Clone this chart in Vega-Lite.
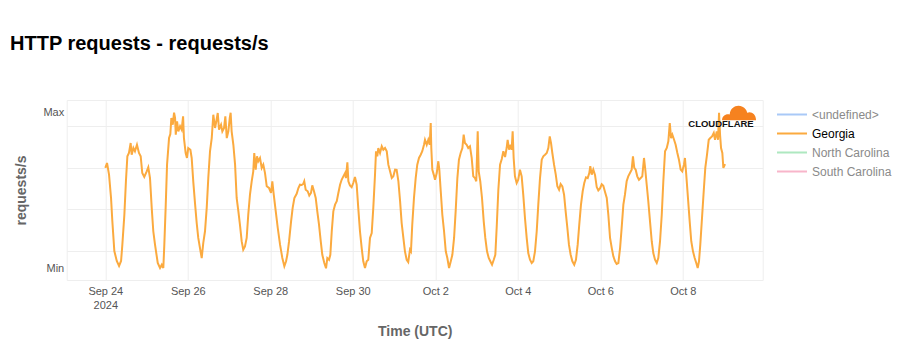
{
  "$schema": "https://vega.github.io/schema/vega-lite/v6.json",
  "autosize": {"type": "none"},
  "padding": {"left": 66.7, "top": 100, "right": 137.3, "bottom": 80},
  "width": 696,
  "height": 180,
  "background": "#ffffff",
  "title": {"text": "HTTP requests - requests/s", "anchor": "start", "frame": "group", "dx": -56.7, "offset": 46, "fontSize": 20, "fontWeight": "bold", "color": "#000000", "font": "Liberation Sans"},
  "config": {
    "font": "Liberation Sans",
    "view": {"stroke": "#eeeeee"},
    "axis": {"labelOverlap": false, "labelFlush": false}
  },
  "layer": [
    {
      "data": {"values": [
        {"t":"2024-09-24T00:00","v":0.645},{"t":"2024-09-24T01:00","v":0.677},{"t":"2024-09-24T02:10","v":0.602},{"t":"2024-09-24T03:20","v":0.452},{"t":"2024-09-24T04:05","v":0.304},{"t":"2024-09-24T05:15","v":0.111},{"t":"2024-09-24T06:40","v":0.047},{"t":"2024-09-24T08:00","v":0.015},{"t":"2024-09-24T09:10","v":0.047},{"t":"2024-09-24T09:55","v":0.152},{"t":"2024-09-24T11:05","v":0.344},{"t":"2024-09-24T12:00","v":0.561},{"t":"2024-09-24T12:50","v":0.72},{"t":"2024-09-24T13:45","v":0.741},{"t":"2024-09-24T14:45","v":0.805},{"t":"2024-09-24T15:20","v":0.73},{"t":"2024-09-24T16:20","v":0.773},{"t":"2024-09-24T17:15","v":0.752},{"t":"2024-09-24T18:25","v":0.794},{"t":"2024-09-24T19:35","v":0.741},{"t":"2024-09-24T20:35","v":0.72},{"t":"2024-09-24T21:30","v":0.612},{"t":"2024-09-24T22:40","v":0.587},
        {"t":"2024-09-25T00:05","v":0.623},{"t":"2024-09-25T01:00","v":0.649},{"t":"2024-09-25T02:00","v":0.58},{"t":"2024-09-25T03:00","v":0.388},{"t":"2024-09-25T03:55","v":0.238},{"t":"2024-09-25T04:55","v":0.152},{"t":"2024-09-25T06:30","v":0.034},{"t":"2024-09-25T07:50","v":0.002},{"t":"2024-09-25T08:50","v":0.023},{"t":"2024-09-25T09:45","v":0.002},{"t":"2024-09-25T10:20","v":0.152},{"t":"2024-09-25T11:10","v":0.409},{"t":"2024-09-25T11:55","v":0.666},{"t":"2024-09-25T13:05","v":0.837},{"t":"2024-09-25T13:50","v":0.863},{"t":"2024-09-25T14:25","v":0.966},{"t":"2024-09-25T15:15","v":0.923},{"t":"2024-09-25T16:00","v":1.0},{"t":"2024-09-25T16:35","v":0.966},{"t":"2024-09-25T17:00","v":0.859},{"t":"2024-09-25T17:45","v":0.945},{"t":"2024-09-25T18:30","v":0.88},{"t":"2024-09-25T19:30","v":0.913},{"t":"2024-09-25T20:25","v":0.891},{"t":"2024-09-25T21:15","v":0.977},{"t":"2024-09-25T21:45","v":0.837},{"t":"2024-09-25T22:45","v":0.741},{"t":"2024-09-25T23:30","v":0.709},
        {"t":"2024-09-26T00:15","v":0.773},{"t":"2024-09-26T01:30","v":0.762},{"t":"2024-09-26T02:15","v":0.709},{"t":"2024-09-26T03:10","v":0.559},{"t":"2024-09-26T04:10","v":0.42},{"t":"2024-09-26T05:10","v":0.291},{"t":"2024-09-26T06:05","v":0.195},{"t":"2024-09-26T07:05","v":0.13},{"t":"2024-09-26T08:05","v":0.066},{"t":"2024-09-26T09:00","v":0.163},{"t":"2024-09-26T10:00","v":0.238},{"t":"2024-09-26T11:00","v":0.388},{"t":"2024-09-26T11:55","v":0.58},{"t":"2024-09-26T12:55","v":0.752},{"t":"2024-09-26T13:55","v":0.837},{"t":"2024-09-26T14:50","v":0.987},{"t":"2024-09-26T15:50","v":0.902},{"t":"2024-09-26T16:35","v":0.945},{"t":"2024-09-26T17:25","v":0.998},{"t":"2024-09-26T18:10","v":0.891},{"t":"2024-09-26T19:20","v":0.923},{"t":"2024-09-26T20:05","v":0.88},{"t":"2024-09-26T21:05","v":0.902},{"t":"2024-09-26T21:50","v":0.977},{"t":"2024-09-26T22:40","v":0.837},{"t":"2024-09-26T23:35","v":0.88},
        {"t":"2024-09-27T00:25","v":0.966},{"t":"2024-09-27T00:55","v":1.0},{"t":"2024-09-27T01:30","v":0.88},{"t":"2024-09-27T02:30","v":0.794},{"t":"2024-09-27T03:30","v":0.666},{"t":"2024-09-27T04:25","v":0.452},{"t":"2024-09-27T05:25","v":0.366},{"t":"2024-09-27T06:20","v":0.28},{"t":"2024-09-27T07:20","v":0.174},{"t":"2024-09-27T08:15","v":0.12},{"t":"2024-09-27T09:15","v":0.141},{"t":"2024-09-27T10:15","v":0.195},{"t":"2024-09-27T11:10","v":0.344},{"t":"2024-09-27T12:10","v":0.473},{"t":"2024-09-27T13:10","v":0.559},{"t":"2024-09-27T14:05","v":0.623},{"t":"2024-09-27T14:40","v":0.741},{"t":"2024-09-27T15:30","v":0.634},{"t":"2024-09-27T16:15","v":0.72},{"t":"2024-09-27T17:00","v":0.688},{"t":"2024-09-27T18:00","v":0.709},{"t":"2024-09-27T19:00","v":0.645},{"t":"2024-09-27T19:55","v":0.666},{"t":"2024-09-27T20:55","v":0.612},{"t":"2024-09-27T21:55","v":0.527},{"t":"2024-09-27T23:15","v":0.516},
        {"t":"2024-09-28T00:25","v":0.484},{"t":"2024-09-28T01:10","v":0.559},{"t":"2024-09-28T02:00","v":0.473},{"t":"2024-09-28T03:10","v":0.366},{"t":"2024-09-28T04:20","v":0.259},{"t":"2024-09-28T05:40","v":0.152},{"t":"2024-09-28T07:00","v":0.066},{"t":"2024-09-28T08:10","v":0.013},{"t":"2024-09-28T09:10","v":0.045},{"t":"2024-09-28T09:55","v":0.087},{"t":"2024-09-28T10:55","v":0.174},{"t":"2024-09-28T12:05","v":0.302},{"t":"2024-09-28T13:00","v":0.388},{"t":"2024-09-28T14:00","v":0.452},{"t":"2024-09-28T15:20","v":0.479},{"t":"2024-09-28T16:20","v":0.516},{"t":"2024-09-28T17:15","v":0.537},{"t":"2024-09-28T18:15","v":0.535},{"t":"2024-09-28T19:10","v":0.542},{"t":"2024-09-28T19:45","v":0.559},{"t":"2024-09-28T20:35","v":0.505},{"t":"2024-09-28T21:45","v":0.495},{"t":"2024-09-28T22:40","v":0.467},{"t":"2024-09-28T23:40","v":0.484},
        {"t":"2024-09-29T00:25","v":0.533},{"t":"2024-09-29T01:25","v":0.495},{"t":"2024-09-29T02:25","v":0.452},{"t":"2024-09-29T03:20","v":0.366},{"t":"2024-09-29T04:20","v":0.28},{"t":"2024-09-29T05:20","v":0.174},{"t":"2024-09-29T06:15","v":0.087},{"t":"2024-09-29T07:25","v":0.034},{"t":"2024-09-29T08:25","v":0.0},{"t":"2024-09-29T09:10","v":0.066},{"t":"2024-09-29T10:10","v":0.055},{"t":"2024-09-29T10:55","v":0.087},{"t":"2024-09-29T11:45","v":0.238},{"t":"2024-09-29T12:40","v":0.366},{"t":"2024-09-29T13:40","v":0.409},{"t":"2024-09-29T14:40","v":0.431},{"t":"2024-09-29T15:35","v":0.484},{"t":"2024-09-29T16:35","v":0.537},{"t":"2024-09-29T17:30","v":0.569},{"t":"2024-09-29T18:30","v":0.591},{"t":"2024-09-29T19:30","v":0.612},{"t":"2024-09-29T20:00","v":0.58},{"t":"2024-09-29T20:50","v":0.681},{"t":"2024-09-29T21:25","v":0.559},{"t":"2024-09-29T22:20","v":0.533},{"t":"2024-09-29T23:20","v":0.521},
        {"t":"2024-09-30T00:15","v":0.548},{"t":"2024-09-30T01:15","v":0.587},{"t":"2024-09-30T02:15","v":0.537},{"t":"2024-09-30T03:10","v":0.388},{"t":"2024-09-30T04:10","v":0.238},{"t":"2024-09-30T05:10","v":0.13},{"t":"2024-09-30T06:05","v":0.045},{"t":"2024-09-30T07:05","v":0.002},{"t":"2024-09-30T08:05","v":0.045},{"t":"2024-09-30T09:00","v":0.055},{"t":"2024-09-30T10:00","v":0.195},{"t":"2024-09-30T11:00","v":0.227},{"t":"2024-09-30T11:55","v":0.388},{"t":"2024-09-30T12:55","v":0.602},{"t":"2024-09-30T13:30","v":0.752},{"t":"2024-09-30T14:15","v":0.72},{"t":"2024-09-30T14:50","v":0.773},{"t":"2024-09-30T15:50","v":0.741},{"t":"2024-09-30T16:50","v":0.784},{"t":"2024-09-30T17:45","v":0.762},{"t":"2024-09-30T18:45","v":0.773},{"t":"2024-09-30T19:45","v":0.752},{"t":"2024-09-30T20:40","v":0.666},{"t":"2024-09-30T21:40","v":0.623},{"t":"2024-09-30T22:40","v":0.58},{"t":"2024-09-30T23:35","v":0.591},
        {"t":"2024-10-01T00:35","v":0.634},{"t":"2024-10-01T01:30","v":0.632},{"t":"2024-10-01T02:30","v":0.561},{"t":"2024-10-01T03:30","v":0.432},{"t":"2024-10-01T04:25","v":0.291},{"t":"2024-10-01T05:25","v":0.195},{"t":"2024-10-01T06:20","v":0.109},{"t":"2024-10-01T07:20","v":0.055},{"t":"2024-10-01T08:15","v":0.04},{"t":"2024-10-01T09:15","v":0.12},{"t":"2024-10-01T09:50","v":0.109},{"t":"2024-10-01T10:35","v":0.28},{"t":"2024-10-01T11:35","v":0.452},{"t":"2024-10-01T12:35","v":0.58},{"t":"2024-10-01T13:30","v":0.666},{"t":"2024-10-01T14:30","v":0.709},{"t":"2024-10-01T15:30","v":0.73},{"t":"2024-10-01T16:25","v":0.752},{"t":"2024-10-01T17:25","v":0.794},{"t":"2024-10-01T18:00","v":0.826},{"t":"2024-10-01T19:00","v":0.794},{"t":"2024-10-01T19:55","v":0.826},{"t":"2024-10-01T20:45","v":0.794},{"t":"2024-10-01T21:20","v":0.934},{"t":"2024-10-01T21:40","v":0.773},{"t":"2024-10-01T22:15","v":0.634},{"t":"2024-10-01T23:05","v":0.602},{"t":"2024-10-01T23:50","v":0.569},
        {"t":"2024-10-02T00:50","v":0.612},{"t":"2024-10-02T01:45","v":0.688},{"t":"2024-10-02T02:20","v":0.634},{"t":"2024-10-02T03:10","v":0.495},{"t":"2024-10-02T04:05","v":0.344},{"t":"2024-10-02T05:05","v":0.238},{"t":"2024-10-02T06:05","v":0.109},{"t":"2024-10-02T07:00","v":0.066},{"t":"2024-10-02T08:00","v":0.002},{"t":"2024-10-02T09:00","v":0.045},{"t":"2024-10-02T09:55","v":0.087},{"t":"2024-10-02T10:55","v":0.195},{"t":"2024-10-02T11:50","v":0.366},{"t":"2024-10-02T12:50","v":0.58},{"t":"2024-10-02T13:45","v":0.698},{"t":"2024-10-02T14:45","v":0.741},{"t":"2024-10-02T15:45","v":0.773},{"t":"2024-10-02T16:30","v":0.859},{"t":"2024-10-02T17:15","v":0.805},{"t":"2024-10-02T18:15","v":0.794},{"t":"2024-10-02T19:10","v":0.773},{"t":"2024-10-02T20:10","v":0.784},{"t":"2024-10-02T21:10","v":0.709},{"t":"2024-10-02T22:05","v":0.591},{"t":"2024-10-02T23:05","v":0.58},{"t":"2024-10-02T23:50","v":0.559},
        {"t":"2024-10-03T00:40","v":0.88},{"t":"2024-10-03T01:15","v":0.623},{"t":"2024-10-03T02:10","v":0.559},{"t":"2024-10-03T03:10","v":0.452},{"t":"2024-10-03T04:10","v":0.302},{"t":"2024-10-03T05:05","v":0.195},{"t":"2024-10-03T06:05","v":0.109},{"t":"2024-10-03T07:05","v":0.066},{"t":"2024-10-03T08:00","v":0.045},{"t":"2024-10-03T09:00","v":0.023},{"t":"2024-10-03T10:00","v":0.055},{"t":"2024-10-03T10:55","v":0.087},{"t":"2024-10-03T11:45","v":0.272},{"t":"2024-10-03T12:40","v":0.503},{"t":"2024-10-03T13:40","v":0.666},{"t":"2024-10-03T14:40","v":0.702},{"t":"2024-10-03T15:35","v":0.752},{"t":"2024-10-03T16:35","v":0.715},{"t":"2024-10-03T17:30","v":0.773},{"t":"2024-10-03T18:05","v":0.826},{"t":"2024-10-03T18:55","v":0.762},{"t":"2024-10-03T19:50","v":0.794},{"t":"2024-10-03T20:25","v":0.762},{"t":"2024-10-03T21:00","v":0.88},{"t":"2024-10-03T21:35","v":0.709},{"t":"2024-10-03T22:20","v":0.591},{"t":"2024-10-03T23:20","v":0.548},
        {"t":"2024-10-04T00:15","v":0.569},{"t":"2024-10-04T01:15","v":0.634},{"t":"2024-10-04T02:15","v":0.591},{"t":"2024-10-04T03:10","v":0.473},{"t":"2024-10-04T04:10","v":0.323},{"t":"2024-10-04T05:10","v":0.195},{"t":"2024-10-04T06:05","v":0.098},{"t":"2024-10-04T07:05","v":0.055},{"t":"2024-10-04T08:05","v":0.034},{"t":"2024-10-04T09:00","v":0.045},{"t":"2024-10-04T10:00","v":0.109},{"t":"2024-10-04T11:00","v":0.238},{"t":"2024-10-04T11:55","v":0.409},{"t":"2024-10-04T12:55","v":0.58},{"t":"2024-10-04T13:55","v":0.698},{"t":"2024-10-04T14:50","v":0.72},{"t":"2024-10-04T15:50","v":0.73},{"t":"2024-10-04T16:50","v":0.741},{"t":"2024-10-04T17:45","v":0.773},{"t":"2024-10-04T18:35","v":0.848},{"t":"2024-10-04T19:20","v":0.805},{"t":"2024-10-04T20:05","v":0.741},{"t":"2024-10-04T21:05","v":0.666},{"t":"2024-10-04T22:05","v":0.602},{"t":"2024-10-04T23:00","v":0.527},
        {"t":"2024-10-05T00:00","v":0.505},{"t":"2024-10-05T00:55","v":0.542},{"t":"2024-10-05T01:55","v":0.527},{"t":"2024-10-05T02:55","v":0.473},{"t":"2024-10-05T03:50","v":0.366},{"t":"2024-10-05T04:50","v":0.259},{"t":"2024-10-05T05:45","v":0.152},{"t":"2024-10-05T06:45","v":0.087},{"t":"2024-10-05T07:45","v":0.045},{"t":"2024-10-05T08:50","v":0.023},{"t":"2024-10-05T09:50","v":0.055},{"t":"2024-10-05T10:50","v":0.152},{"t":"2024-10-05T11:45","v":0.28},{"t":"2024-10-05T12:45","v":0.409},{"t":"2024-10-05T13:45","v":0.495},{"t":"2024-10-05T14:40","v":0.548},{"t":"2024-10-05T15:40","v":0.585},{"t":"2024-10-05T16:40","v":0.58},{"t":"2024-10-05T17:35","v":0.612},{"t":"2024-10-05T18:10","v":0.656},{"t":"2024-10-05T19:00","v":0.602},{"t":"2024-10-05T19:55","v":0.634},{"t":"2024-10-05T20:55","v":0.6},{"t":"2024-10-05T21:55","v":0.522},{"t":"2024-10-05T22:50","v":0.5},{"t":"2024-10-05T23:50","v":0.513},
        {"t":"2024-10-06T00:50","v":0.54},{"t":"2024-10-06T01:45","v":0.531},{"t":"2024-10-06T02:45","v":0.49},{"t":"2024-10-06T03:45","v":0.452},{"t":"2024-10-06T04:40","v":0.344},{"t":"2024-10-06T05:40","v":0.195},{"t":"2024-10-06T06:40","v":0.13},{"t":"2024-10-06T07:35","v":0.077},{"t":"2024-10-06T08:35","v":0.045},{"t":"2024-10-06T09:30","v":0.028},{"t":"2024-10-06T10:30","v":0.034},{"t":"2024-10-06T11:30","v":0.13},{"t":"2024-10-06T12:25","v":0.259},{"t":"2024-10-06T13:25","v":0.409},{"t":"2024-10-06T14:20","v":0.473},{"t":"2024-10-06T15:20","v":0.559},{"t":"2024-10-06T16:15","v":0.591},{"t":"2024-10-06T17:15","v":0.612},{"t":"2024-10-06T18:15","v":0.634},{"t":"2024-10-06T19:00","v":0.72},{"t":"2024-10-06T19:45","v":0.645},{"t":"2024-10-06T20:35","v":0.634},{"t":"2024-10-06T21:30","v":0.591},{"t":"2024-10-06T22:30","v":0.569},{"t":"2024-10-06T23:30","v":0.58},
        {"t":"2024-10-07T00:25","v":0.591},{"t":"2024-10-07T01:25","v":0.709},{"t":"2024-10-07T02:10","v":0.634},{"t":"2024-10-07T03:00","v":0.537},{"t":"2024-10-07T03:55","v":0.431},{"t":"2024-10-07T04:55","v":0.302},{"t":"2024-10-07T05:55","v":0.174},{"t":"2024-10-07T06:50","v":0.098},{"t":"2024-10-07T07:50","v":0.055},{"t":"2024-10-07T08:50","v":0.034},{"t":"2024-10-07T09:45","v":0.066},{"t":"2024-10-07T10:45","v":0.174},{"t":"2024-10-07T11:45","v":0.344},{"t":"2024-10-07T12:40","v":0.559},{"t":"2024-10-07T13:40","v":0.752},{"t":"2024-10-07T14:40","v":0.773},{"t":"2024-10-07T15:35","v":0.816},{"t":"2024-10-07T16:25","v":0.934},{"t":"2024-10-07T17:10","v":0.837},{"t":"2024-10-07T17:55","v":0.859},{"t":"2024-10-07T18:55","v":0.826},{"t":"2024-10-07T19:50","v":0.794},{"t":"2024-10-07T20:50","v":0.741},{"t":"2024-10-07T21:45","v":0.698},{"t":"2024-10-07T22:45","v":0.634},{"t":"2024-10-07T23:40","v":0.623},
        {"t":"2024-10-08T00:40","v":0.666},{"t":"2024-10-08T01:15","v":0.709},{"t":"2024-10-08T02:00","v":0.602},{"t":"2024-10-08T03:00","v":0.452},{"t":"2024-10-08T04:00","v":0.302},{"t":"2024-10-08T04:55","v":0.174},{"t":"2024-10-08T05:55","v":0.109},{"t":"2024-10-08T06:55","v":0.066},{"t":"2024-10-08T07:50","v":0.034},{"t":"2024-10-08T08:40","v":0.002},{"t":"2024-10-08T09:25","v":0.045},{"t":"2024-10-08T10:10","v":0.152},{"t":"2024-10-08T11:10","v":0.323},{"t":"2024-10-08T12:10","v":0.495},{"t":"2024-10-08T13:05","v":0.645},{"t":"2024-10-08T14:05","v":0.73},{"t":"2024-10-08T15:05","v":0.826},{"t":"2024-10-08T16:00","v":0.837},{"t":"2024-10-08T17:00","v":0.848},{"t":"2024-10-08T18:00","v":0.87},{"t":"2024-10-08T18:45","v":0.826},{"t":"2024-10-08T19:45","v":0.88},{"t":"2024-10-08T20:30","v":0.826},{"t":"2024-10-08T21:05","v":1.0},{"t":"2024-10-08T21:40","v":0.859},{"t":"2024-10-08T22:15","v":0.773},{"t":"2024-10-08T23:00","v":0.741},{"t":"2024-10-08T23:35","v":0.645},
        {"t":"2024-10-09T00:35","v":0.67}
      ]},
      "mark": {"type": "line", "strokeWidth": 2, "interpolate": "linear"},
      "encoding": {
        "x": {
          "field": "t", "type": "temporal",
          "scale": {"domain": [{"year": 2024, "month": 9, "date": 23, "hours": 1, "minutes": 32}, {"year": 2024, "month": 10, "date": 9, "hours": 22, "minutes": 29}]},
          "axis": {
            "title": "Time (UTC)",
            "values": [
              {"year": 2024, "month": 9, "date": 24}, {"year": 2024, "month": 9, "date": 26}, {"year": 2024, "month": 9, "date": 28}, {"year": 2024, "month": 9, "date": 30},
              {"year": 2024, "month": 10, "date": 2}, {"year": 2024, "month": 10, "date": 4}, {"year": 2024, "month": 10, "date": 6}, {"year": 2024, "month": 10, "date": 8}
            ],
            "tickCount": 20,
            "labelExpr": "datum.index == 0 ? [timeFormat(datum.value, '%b %-d'), '2024'] : timeFormat(datum.value, '%b %-d')",
            "labelLineHeight": 14,
            "labelFontSize": 11,
            "labelColor": "#555555",
            "labelPadding": 5,
            "labelFlush": false,
            "labelOverlap": false,
            "ticks": false,
            "domain": false,
            "grid": true,
            "gridColor": "#eeeeee",
            "titleFontSize": 14,
            "titleFontWeight": "bold",
            "titleColor": "#666666",
            "titlePadding": 14
          }
        },
        "y": {
          "field": "v", "type": "quantitative",
          "scale": {"domain": [-0.0752, 1.0816], "nice": false, "zero": false},
          "axis": {
            "title": "requests/s",
            "values": [0, 0.113, 0.381, 0.643, 0.915, 1],
            "tickCount": 12,
            "labelExpr": "datum.value == 0 ? 'Min' : datum.value == 1 ? 'Max' : ''",
            "labelFontSize": 11,
            "labelColor": "#555555",
            "labelPadding": 3,
            "labelOverlap": false,
            "labelFlush": false,
            "labelBound": false,
            "ticks": false,
            "domain": false,
            "grid": true,
            "gridColor": "#eeeeee",
            "gridOpacity": {"condition": {"test": "datum.value == 0 || datum.value == 1", "value": 0}, "value": 1},
            "titleFontSize": 14,
            "titleFontWeight": "bold",
            "titleColor": "#666666",
            "titlePadding": 14
          }
        },
        "color": {
          "datum": "Georgia", "type": "nominal",
          "scale": {"domain": ["<undefined>", "Georgia", "North Carolina", "South Carolina"], "range": ["#a9c9f7", "#fbaa3f", "#aee8c0", "#f8b5ca"]},
          "legend": {
            "title": null,
            "orient": "none",
            "legendX": 709.3,
            "legendY": 5,
            "padding": 0,
            "symbolType": "stroke",
            "symbolSize": 900,
            "symbolStrokeWidth": 2,
            "clipHeight": 19,
            "rowPadding": 0,
            "labelOffset": 4,
            "labelFontSize": 12,
            "labelColor": "#8a8a8a",
            "labelLimit": 200,
            "encode": {"labels": {"update": {"fill": {"signal": "datum.value === 'Georgia' ? '#000000' : '#8a8a8a'"}}}}
          }
        }
      }
    },
    {
      "data": {"values": [{"brand": "CLOUDFLARE"}]},
      "layer": [
        {
          "mark": {"type": "point", "filled": true, "opacity": 1, "color": "#f6821f", "shape": "M-1,0.45 C-1,0.2 -0.8,0.05 -0.55,0.1 C-0.5,-0.35 -0.1,-0.5 0.2,-0.35 C0.35,-0.28 0.45,-0.15 0.48,0 C0.7,-0.1 1,0.05 1,0.45 Z", "size": 1156},
          "encoding": {
            "x": {"datum": {"year": 2024, "month": 10, "date": 9, "hours": 8, "minutes": 43}, "type": "temporal"},
            "y": {"datum": 1.0, "type": "quantitative"}
          }
        },
        {
          "mark": {"type": "text", "fontSize": 9.5, "fontWeight": "bold", "color": "#111111", "baseline": "middle", "align": "center"},
          "encoding": {
            "x": {"datum": {"year": 2024, "month": 10, "date": 8, "hours": 22, "minutes": 13}, "type": "temporal"},
            "y": {"datum": 0.927, "type": "quantitative"},
            "text": {"field": "brand"}
          }
        }
      ]
    }
  ]
}
